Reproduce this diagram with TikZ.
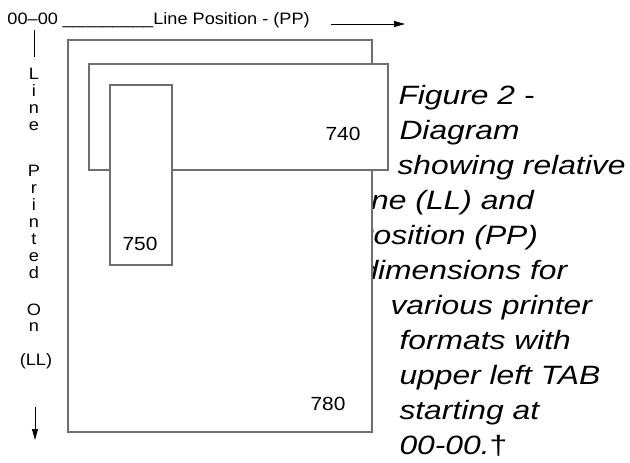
\documentclass[tikz,border=0pt]{standalone}
\usepackage{fontspec}
\setmainfont{Liberation Sans}[FakeStretch=1.1]
\newfontfamily\capfont{Liberation Sans}[FakeStretch=1.2]
\usetikzlibrary{arrows.meta}
\definecolor{boxgray}{RGB}{110,110,110}

\begin{document}
\begin{tikzpicture}[x=1pt,y=-1pt,>={Triangle[length=11pt,width=6pt]},line width=1pt,
	smalltext/.style={anchor=base west,inner sep=0pt,font=\fontsize{16.5}{18}\selectfont},
	letter/.style={anchor=base,inner sep=0pt,font=\fontsize{16.5}{18}\selectfont},
	capline/.style={anchor=base west,inner sep=0pt,font=\capfont\itshape\fontsize{26.5}{35}\selectfont},
	sheet/.style={draw=boxgray,line width=1.3pt,fill=white,anchor=north west,inner sep=0pt,outer sep=0pt},
	boxlabel/.style={anchor=base,inner sep=0pt,font=\fontsize{19}{21}\selectfont}]

\useasboundingbox (0,0) rectangle (630,463);

% heading along the top
\node[smalltext] (origin)  at (7,24)  {00--00};
\node[smalltext] (pptitle) at (62,24) {\_\_\_\_\_\_\_\_\_Line Position - (PP)};
\coordinate (ppstart) at (331,24);
\coordinate (ppend)   at (405,24);
\draw[->] (ppstart) -- (ppend);

% heading down the side
\coordinate (lltop) at (34,30);
\coordinate (llmid) at (34,57);
\draw (lltop) -- (llmid);
\node[letter] (l1)  at (34,79)  {L};
\node[letter] (l2)  at (34,96)  {i};
\node[letter] (l3)  at (34,113) {n};
\node[letter] (l4)  at (34,130) {e};
\node[letter] (p1)  at (34,176) {P};
\node[letter] (p2)  at (34,193) {r};
\node[letter] (p3)  at (34,210) {i};
\node[letter] (p4)  at (34,227) {n};
\node[letter] (p5)  at (34,244) {t};
\node[letter] (p6)  at (34,261) {e};
\node[letter] (p7)  at (34,278) {d};
\node[letter] (o1)  at (34,315) {O};
\node[letter] (o2)  at (34,331) {n};
\node[letter] (ll)  at (36,365) {(LL)};
\coordinate (llstart) at (35,407);
\coordinate (llend)   at (35,440);
\draw[->] (llstart) -- (llend);

% caption (partly hidden by the sheet)
\node[capline] (cap1)  at (398,104) {Figure 2 -};
\node[capline] (cap2)  at (399,139) {Diagram};
\node[capline] (cap3)  at (397,174) {showing relative};
\node[capline] (cap4)  at (346,209) {Line (LL) and};
\node[capline] (cap5)  at (352,244) {Position (PP)};
\node[capline] (cap6)  at (360,279) {dimensions for};
\node[capline] (cap7)  at (390,314) {various printer};
\node[capline] (cap8)  at (399,349) {formats with};
\node[capline] (cap9)  at (399,384) {upper left TAB};
\node[capline] (cap10) at (399,419) {starting at};
\node[capline] (cap11) at (399,454) {00-00.{\upshape\textdagger}};

% printer formats
\node[sheet,minimum width=304,minimum height=392] (sheet780) at (68,40) {};
\node[sheet,minimum width=299,minimum height=106] (sheet740) at (89,64) {};
\node[sheet,minimum width=62,minimum height=180]  (sheet750) at (110,85) {};

\node[boxlabel] (lab780) at (328,410) {780};
\node[boxlabel] (lab740) at (343,140) {740};
\node[boxlabel] (lab750) at (140,250) {750};

\end{tikzpicture}
\end{document}
